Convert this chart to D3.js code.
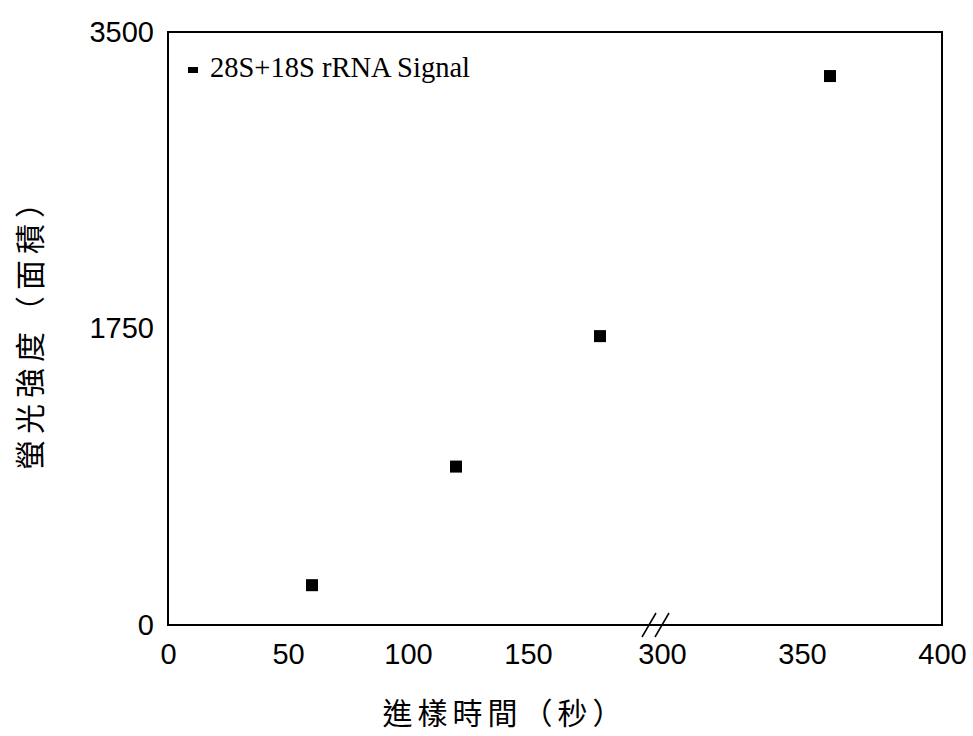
<!DOCTYPE html>
<html>
<head>
<meta charset="utf-8">
<script src="https://cdn.jsdelivr.net/npm/d3@7"></script>
<style>
  body { margin: 0; background: #fff; }
  svg { display: block; }
</style>
</head>
<body>
<svg id="chart" width="973" height="736"></svg>
<script>
// données
const times = [60, 120, 180, 360];
const signal = [235, 935, 1705, 3240];
const xTicks = [0, 50, 100, 150, 300, 350, 400];
const yTicks = [0, 1750, 3500];
const seriesName = "28S+18S rRNA Signal";
const xTitle = "進樣時間（秒）";
const yTitle = "螢光強度（面積）";

const svg = d3.select("#chart");
const plotLeft = 168, plotRight = 942, plotTop = 32, plotBottom = 625;

// axe x coupé entre 200 et 300
const x = d3.scaleLinear().domain([0, 200, 300, 400]).range([plotLeft, 648, 662, plotRight]);
const y = d3.scaleLinear().domain([0, 3500]).range([plotBottom, plotTop]);

const sans = "'Liberation Sans', Arial, sans-serif";
const cjk = "'Noto Sans CJK TC', 'Noto Sans CJK SC', sans-serif";

// cadre
svg.append("rect")
  .attr("x", plotLeft).attr("y", plotTop)
  .attr("width", plotRight - plotLeft).attr("height", plotBottom - plotTop)
  .attr("fill", "none").attr("stroke", "#000").attr("stroke-width", 2);

// axes (labels seulement)
const gx = svg.append("g").attr("transform", `translate(0,${plotBottom})`)
  .call(d3.axisBottom(x).tickValues(xTicks).tickFormat(d3.format("d")).tickSize(0).tickPadding(18));
gx.select(".domain").remove();
gx.selectAll("text").attr("font-family", sans).attr("font-size", 29).attr("fill", "#000");

const gy = svg.append("g").attr("transform", `translate(${plotLeft},0)`)
  .call(d3.axisLeft(y).tickValues(yTicks).tickFormat(d3.format("d")).tickSize(0).tickPadding(14));
gy.select(".domain").remove();
gy.selectAll("text").attr("font-family", sans).attr("font-size", 29).attr("fill", "#000");

// marques de coupure
[649, 662].forEach(cx => {
  svg.append("line")
    .attr("x1", cx - 7).attr("y1", plotBottom + 12)
    .attr("x2", cx + 7).attr("y2", plotBottom - 12)
    .attr("stroke", "#000").attr("stroke-width", 1.5);
});

// points
svg.selectAll(".pt")
  .data(times.map((t, i) => ({ t, v: signal[i] })))
  .enter().append("rect")
  .attr("class", "pt")
  .attr("x", d => x(d.t) - 6)
  .attr("y", d => y(d.v) - 6)
  .attr("width", 12).attr("height", 12)
  .attr("fill", "#000");

// légende
svg.append("rect").attr("x", 188).attr("y", 67).attr("width", 10).attr("height", 6).attr("fill", "#000");
svg.append("text")
  .attr("x", 210).attr("y", 77)
  .attr("font-family", "'Liberation Serif', 'Times New Roman', serif")
  .attr("font-size", 28.5)
  .text(seriesName);

// titres
svg.append("text")
  .attr("x", 505).attr("y", 724)
  .attr("text-anchor", "middle")
  .attr("font-family", cjk).attr("font-size", 30)
  .attr("letter-spacing", 5)
  .text(xTitle);

svg.append("text")
  .attr("transform", "translate(41,326) rotate(-90)")
  .attr("text-anchor", "middle")
  .attr("font-family", cjk).attr("font-size", 30)
  .attr("letter-spacing", 6)
  .text(yTitle);
</script>
</body>
</html>
